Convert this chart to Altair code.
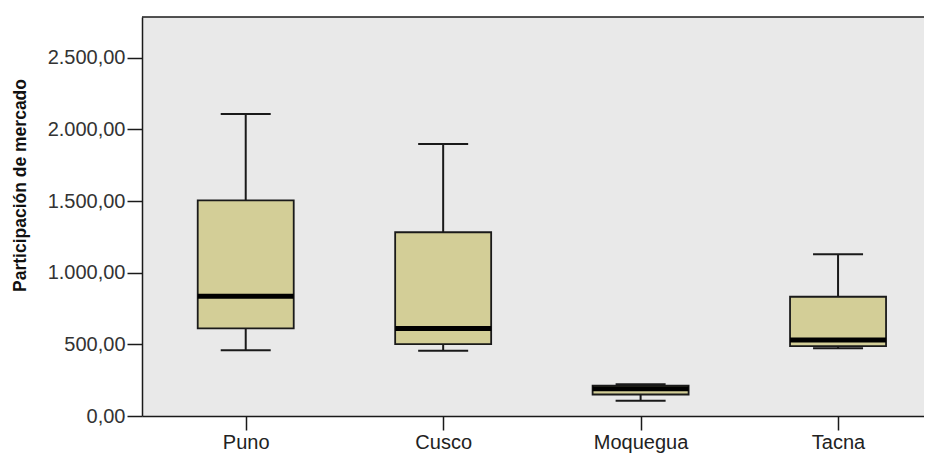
import altair as alt
import pandas as pd

regions = ["Puno", "Cusco", "Moquegua", "Tacna"]
mins = [458, 456, 107, 472]
q1s = [612, 502, 150, 488]
medians = [836, 610, 190, 530]
q3s = [1505, 1282, 212, 832]
maxs = [2107, 1898, 222, 1128]
y_ticks = [0, 500, 1000, 1500, 2000, 2500]

df = pd.DataFrame({
    "region": regions, "idx": list(range(len(regions))),
    "lo": mins, "q1": q1s, "med": medians, "q3": q3s, "hi": maxs
})

FONT = "Liberation Sans"
DARK = "#1a1a1a"
W, H = 782, 399

label_list = "[" + ",".join("'" + r + "'" for r in regions) + "]"

x_enc = alt.X(
    "idx:Q", title=None,
    scale=alt.Scale(domain=[-0.5, 3.41], nice=False, zero=False),
    axis=alt.Axis(values=list(range(len(regions))), labelExpr=label_list + "[datum.value]",
                  labelFont=FONT, labelFontSize=20, labelColor="#222", labelAngle=0,
                  tickSize=14, tickColor=DARK, tickWidth=1.5, labelPadding=2,
                  domainColor=DARK, domainWidth=1.5, grid=False, labelFlush=False),
)

y_axis = alt.Axis(
    values=y_ticks, grid=False,
    labelExpr="replace(replace(replace(format(datum.value, ',.2f'), ',', '#'), '.', ','), '#', '.')",
    labelFont=FONT, labelFontSize=20, labelColor="#333", labelPadding=2,
    tickSize=15, tickColor=DARK, tickWidth=1.5,
    domainColor=DARK, domainWidth=1.5,
    title="Participación de mercado", titleFont=FONT, titleFontSize=17.5,
    titleFontWeight="bold", titleColor="#111", titleAngle=270,
    titleX=-122, titleY=168, titleAlign="center", titleBaseline="middle",
)
y_scale = alt.Scale(domain=[0, 2784], nice=False, zero=True)

base = alt.Chart(df).encode(x=x_enc)

whisk_lo = base.mark_rule(color=DARK, strokeWidth=2).encode(
    y=alt.Y("lo:Q", scale=y_scale, axis=y_axis), y2="q1:Q")
whisk_hi = base.mark_rule(color=DARK, strokeWidth=2).encode(
    y=alt.Y("q3:Q", scale=y_scale, axis=y_axis), y2="hi:Q")
box = base.mark_bar(size=96, fill="#D3CE97", stroke=DARK, strokeWidth=1.8).encode(
    y=alt.Y("q1:Q", scale=y_scale, axis=y_axis), y2="q3:Q")
median = base.mark_tick(size=96, thickness=5, color="#000", opacity=1,
                        orient="horizontal").encode(
    y=alt.Y("med:Q", scale=y_scale, axis=y_axis))
cap_lo = base.mark_tick(size=50, thickness=2, color=DARK, opacity=1,
                        orient="horizontal").encode(
    y=alt.Y("lo:Q", scale=y_scale, axis=y_axis))
cap_hi = base.mark_tick(size=50, thickness=2, color=DARK, opacity=1,
                        orient="horizontal").encode(
    y=alt.Y("hi:Q", scale=y_scale, axis=y_axis))

top_frame = alt.Chart(pd.DataFrame({"f": [0]})).mark_rule(
    color=DARK, strokeWidth=1.5).encode(
    y=alt.value(0), x=alt.value(0), x2=alt.value(W))

chart = alt.layer(whisk_lo, whisk_hi, box, median, cap_lo, cap_hi, top_frame).properties(
    width=W, height=H,
    autosize=alt.AutoSizeParams(type="none"),
    padding={"left": 134, "top": 9, "right": 0, "bottom": 38},
    background="white",
).configure_view(
    fill="#E9E9E9", stroke="transparent", strokeWidth=0
)

chart.save("out.html", embed_options={"renderer": "svg", "actions": False})
